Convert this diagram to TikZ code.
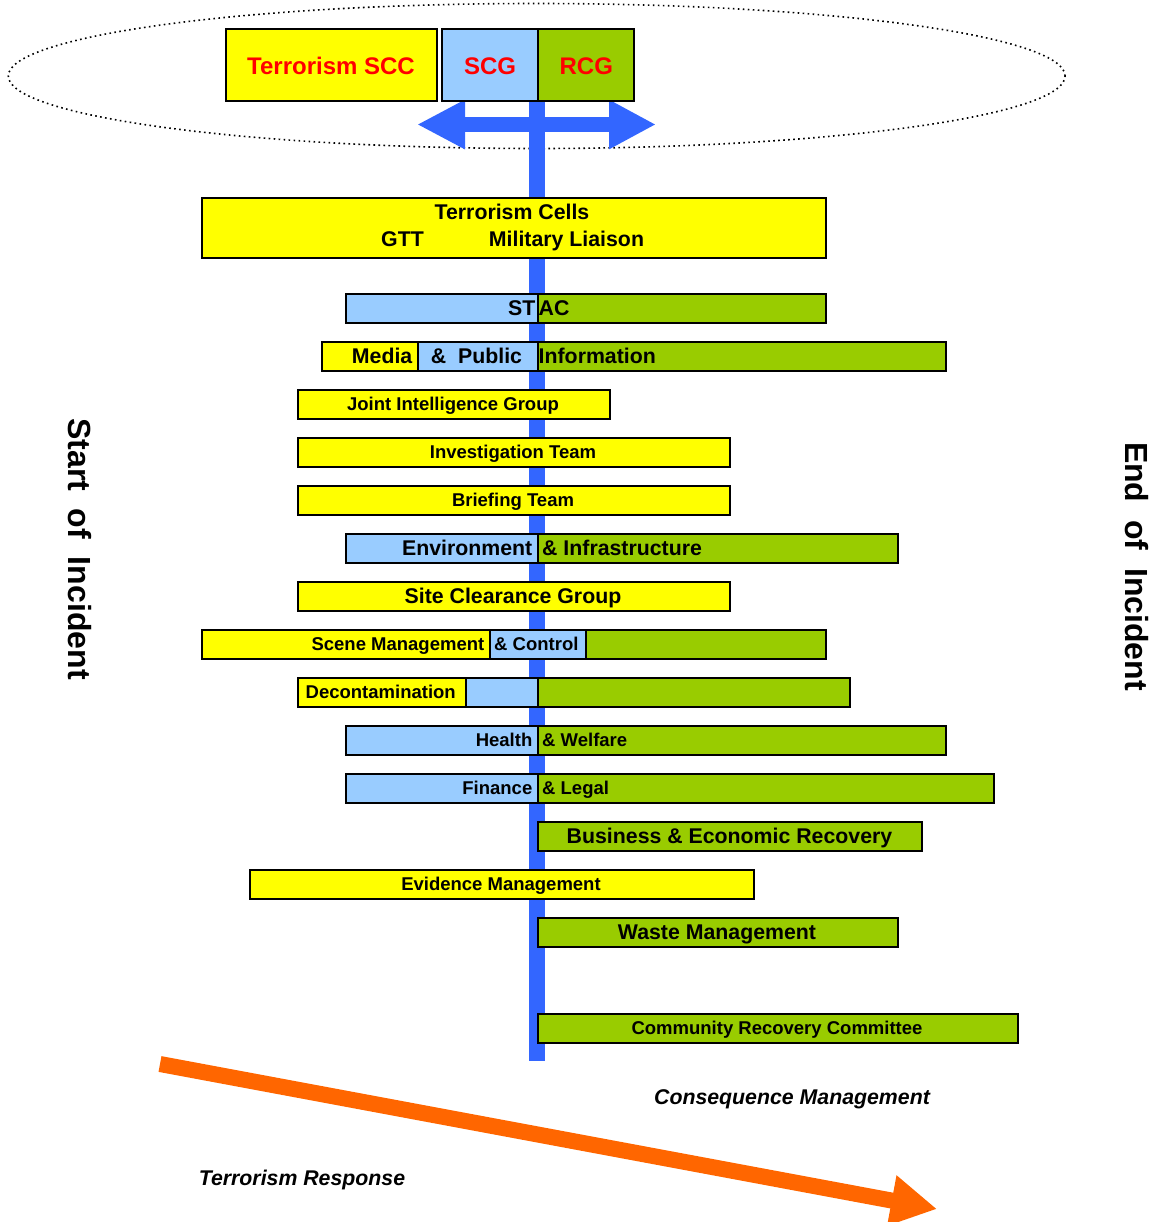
\documentclass[tikz,border=0pt]{standalone}
\usepackage{fontspec}
\setmainfont{Liberation Sans}
\usetikzlibrary{arrows.meta}
\definecolor{ylw}{HTML}{FFFF00}
\definecolor{lblue}{HTML}{99CCFF}
\definecolor{grn}{HTML}{99CC00}
\definecolor{barblue}{HTML}{3366FF}
\definecolor{orng}{HTML}{FF6600}
\definecolor{redtxt}{HTML}{FF0000}
\newcommand\fsS{\fontsize{18.5pt}{20pt}\selectfont\bfseries}
\newcommand\fsL{\fontsize{21.3pt}{23pt}\selectfont\bfseries}
\newcommand\fsH{\fontsize{24pt}{26pt}\selectfont\bfseries}
\newcommand\fsR{\fontsize{32pt}{34pt}\selectfont\bfseries}
\newcommand\fsI{\fontsize{21.3pt}{23pt}\selectfont\bfseries\itshape}
\begin{document}
\begin{tikzpicture}[x=1pt,y=-1pt,
  bx/.style={draw=black, line width=2pt, inner sep=0pt, anchor=north west},
  yb/.style={bx, fill=ylw},
  bb/.style={bx, fill=lblue},
  gb/.style={bx, fill=grn},
  txt/.style={inner sep=0pt, text depth=0pt},
  sm/.style={txt, font=\fsS, text height=13.3pt},
  lg/.style={txt, font=\fsL, text height=15.4pt},
  hd/.style={txt, font=\fsH, text height=17.3pt, text=redtxt},
  rot/.style={txt, font=\fsR, text height=23pt, rotate=-90},
  it/.style={txt, font=\fsI, text height=15.4pt}
]
\useasboundingbox (0,0) rectangle (1152,1222);
% ellipse
\draw[line width=1.6pt, dash pattern=on 1.6pt off 3.4pt] (536.7,76) ellipse [x radius=528.4pt, y radius=72.5pt];
% vertical bar
\coordinate (vtop) at (537,95);
\coordinate (vbot) at (537,1060.5);
\draw[barblue, line width=16pt] (vtop) -- (vbot);
% horizontal double arrow
\coordinate (hl) at (417,124.5);
\coordinate (hr) at (656,124.5);
\draw[barblue, line width=15.5pt, {Triangle[length=48pt,width=46pt]}-{Triangle[length=47pt,width=46pt]}] (hl) -- (hr);
% orange arrow
\coordinate (os) at (160,1064);
\coordinate (oe) at (937,1209);
\draw[orng, line width=16pt, -{Triangle[length=46pt,width=48pt]}] (os) -- (oe);

% top boxes
\node[yb, minimum width=211pt, minimum height=72pt] (scc) at (224.5,28.5) {};
\node[hd] at (scc.center) {Terrorism SCC};
\node[bb, minimum width=96.5pt, minimum height=72pt] (scg) at (440.8,28.5) {};
\node[hd] at (scg.center) {SCG};
\node[gb, minimum width=96pt, minimum height=72pt] (rcg) at (537.3,28.5) {};
\node[hd] at (rcg.center) {RCG};

% Terrorism cells
\node[yb, minimum width=624pt, minimum height=60pt] (tc) at (201,197) {};
\node[lg] (tct) at (512,211.5) {Terrorism Cells};
\node[lg] (gtt) at (402.5,238.5) {GTT};
\node[lg] (mil) at (566.5,238.5) {Military Liaison};

% STAC
\node[bb, minimum width=192pt, minimum height=29pt] (stacb) at (345,293) {};
\node[gb, minimum width=288pt, minimum height=29pt] (stacg) at (537,293) {};
\node[lg, anchor=east] at (535.5,307.5) {ST};
\node[lg, anchor=west] at (538.5,307.5) {AC};

% Media & Public Information
\node[yb, minimum width=96pt, minimum height=29pt] (medy) at (321,341) {};
\node[bb, minimum width=120pt, minimum height=29pt] (medb) at (417,341) {};
\node[gb, minimum width=408pt, minimum height=29pt] (medg) at (537,341) {};
\node[lg, anchor=east] at (412.5,355.5) {Media};
\node[lg] at (476.5,355.5) {\&\ \ Public};
\node[lg, anchor=west] at (538.5,355.5) {Information};

% Joint Intelligence Group
\node[yb, minimum width=312pt, minimum height=29pt] (jig) at (297,389) {};
\node[sm] at (453,403.5) {Joint Intelligence Group};

% Investigation Team
\node[yb, minimum width=432pt, minimum height=29pt] (inv) at (297,437) {};
\node[sm] at (513,451.5) {Investigation Team};

% Briefing Team
\node[yb, minimum width=432pt, minimum height=29pt] (brf) at (297,485) {};
\node[sm] at (513,499.5) {Briefing Team};

% Environment & Infrastructure
\node[bb, minimum width=192pt, minimum height=29pt] (envb) at (345,533) {};
\node[gb, minimum width=360pt, minimum height=29pt] (envg) at (537,533) {};
\node[lg, anchor=east] at (532.5,547.5) {Environment};
\node[lg, anchor=west] at (542,547.5) {\& Infrastructure};

% Site Clearance Group
\node[yb, minimum width=432pt, minimum height=29pt] (site) at (297,581) {};
\node[lg] at (513,595.5) {Site Clearance Group};

% Scene Management & Control
\node[yb, minimum width=288pt, minimum height=29pt] (scny) at (201,629) {};
\node[bb, minimum width=96pt, minimum height=29pt] (scnb) at (489,629) {};
\node[gb, minimum width=240pt, minimum height=29pt] (scng) at (585,629) {};
\node[sm, anchor=east] at (484.5,643.5) {Scene Management};
\node[sm, anchor=west] at (494,643.5) {\& Control};

% Decontamination
\node[yb, minimum width=168pt, minimum height=29pt] (decy) at (297,677) {};
\node[bb, minimum width=72pt, minimum height=29pt] (decb) at (465,677) {};
\node[gb, minimum width=312pt, minimum height=29pt] (decg) at (537,677) {};
\node[sm, anchor=west] at (305.5,691.5) {Decontamination};

% Health & Welfare
\node[bb, minimum width=192pt, minimum height=29pt] (hwb) at (345,725) {};
\node[gb, minimum width=408pt, minimum height=29pt] (hwg) at (537,725) {};
\node[sm, anchor=east] at (532.5,739.5) {Health};
\node[sm, anchor=west] at (542,739.5) {\& Welfare};

% Finance & Legal
\node[bb, minimum width=192pt, minimum height=29pt] (flb) at (345,773) {};
\node[gb, minimum width=456pt, minimum height=29pt] (flg) at (537,773) {};
\node[sm, anchor=east] at (532.5,787.5) {Finance};
\node[sm, anchor=west] at (542,787.5) {\& Legal};

% Business & Economic Recovery
\node[gb, minimum width=384pt, minimum height=29pt] (bus) at (537,821) {};
\node[lg] at (729.5,835.5) {Business \& Economic Recovery};

% Evidence Management
\node[yb, minimum width=504pt, minimum height=29pt] (evi) at (249,869) {};
\node[sm] at (501,883.5) {Evidence Management};

% Waste Management
\node[gb, minimum width=360pt, minimum height=29pt] (wst) at (537,917) {};
\node[lg] at (717,931.5) {Waste Management};

% Community Recovery Committee
\node[gb, minimum width=480pt, minimum height=29pt] (com) at (537,1013) {};
\node[sm] at (777,1027.5) {Community Recovery Committee};

% side labels
\node[rot] (start) at (80,549) {Start\ \ of\ \ Incident};
\node[rot] (end) at (1136.5,566.5) {End\ \ of\ \ Incident};

% bottom italic labels
\node[it] (cons) at (792,1097) {Consequence Management};
\node[it] (resp) at (302,1178) {Terrorism Response};
\end{tikzpicture}
\end{document}
